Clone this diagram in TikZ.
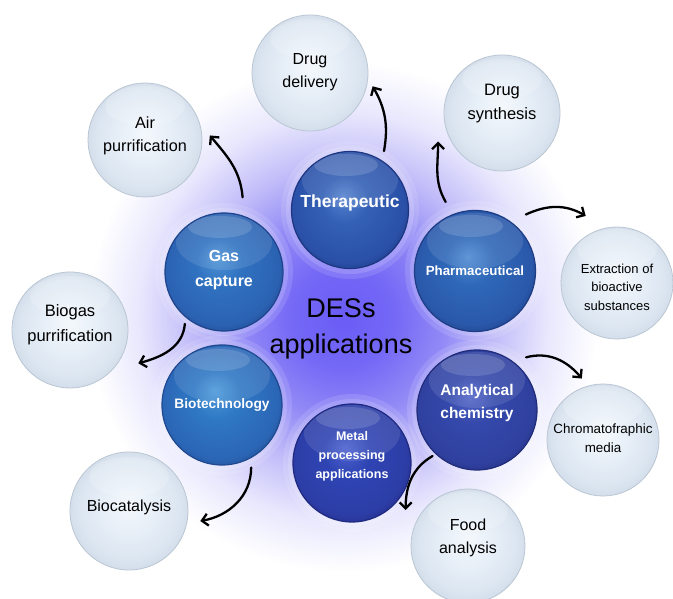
\documentclass[tikz,border=0pt]{standalone}
\usepackage{fontspec}
\setmainfont{Liberation Sans}
\usetikzlibrary{arrows.meta,calc}

% glow colours
\definecolor{g0}{HTML}{6A5CF5}
\definecolor{g1}{HTML}{7468F6}
\definecolor{g2}{HTML}{928AF6}
\definecolor{g3}{HTML}{C2BDF9}
\definecolor{g4}{HTML}{E8E7FD}
\pgfdeclareradialshading{glow}{\pgfpointorigin}{color(0bp)=(g0); color(5bp)=(g1); color(10bp)=(g2); color(15bp)=(g3); color(20bp)=(g4); color(25bp)=(white); color(50bp)=(white)}

% dark balls
\newcommand\mkball[5]{\pgfdeclareradialshading{#1}{\pgfpoint{-3bp}{6bp}}{color(0bp)=(#2); color(10bp)=(#3); color(24bp)=(#4); color(30bp)=(#5); color(34bp)=(#5)}}
\definecolor{therL}{HTML}{5582CF}\definecolor{therM}{HTML}{3360B5}\definecolor{therD}{HTML}{2A50A8}\definecolor{therE}{HTML}{1C3680}
\definecolor{gasL}{HTML}{4E93D6}\definecolor{gasM}{HTML}{3072C0}\definecolor{gasD}{HTML}{2B62B2}\definecolor{gasE}{HTML}{1E448C}
\definecolor{pharL}{HTML}{4D8AD2}\definecolor{pharM}{HTML}{2F68B8}\definecolor{pharD}{HTML}{2A58AA}\definecolor{pharE}{HTML}{1D3D84}
\definecolor{bioL}{HTML}{4D99DA}\definecolor{bioM}{HTML}{2F78C4}\definecolor{bioD}{HTML}{2B66B6}\definecolor{bioE}{HTML}{1F4A90}
\definecolor{metL}{HTML}{4D62D0}\definecolor{metM}{HTML}{2F44B3}\definecolor{metD}{HTML}{2C3DA6}\definecolor{metE}{HTML}{1F2980}
\definecolor{anaL}{HTML}{5265C8}\definecolor{anaM}{HTML}{3449AB}\definecolor{anaD}{HTML}{2F409F}\definecolor{anaE}{HTML}{212D7A}
\mkball{ther}{therL}{therM}{therD}{therE}
\mkball{gas}{gasL}{gasM}{gasD}{gasE}
\mkball{phar}{pharL}{pharM}{pharD}{pharE}
\mkball{bio}{bioL}{bioM}{bioD}{bioE}
\mkball{met}{metL}{metM}{metD}{metE}
\mkball{ana}{anaL}{anaM}{anaD}{anaE}

% light balls
\definecolor{lA}{HTML}{F4F8FC}
\definecolor{lB}{HTML}{E6EEF7}
\definecolor{lC}{HTML}{DCE6F1}
\definecolor{lD}{HTML}{CFDBE8}
\definecolor{lE}{HTML}{BAC6D3}
\pgfdeclareradialshading{lball}{\pgfpoint{0bp}{3bp}}{color(0bp)=(lA); color(12bp)=(lB); color(21bp)=(lC); color(27bp)=(lD); color(30bp)=(lD)}

\begin{document}
\begin{tikzpicture}[x=1pt,y=1pt,
  dball/.style={circle, minimum size=#1, inner sep=0pt, line width=1.2pt,
    path picture={
      \fill[white,opacity=0.10] ($(path picture bounding box.center)+(0,30pt)$) ellipse (48pt and 28pt);
      \fill[white,opacity=0.14] ($(path picture bounding box.center)+(-4pt,45pt)$) ellipse (32pt and 11pt);
    }},
  lball/.style={circle, minimum size=#1, inner sep=0pt, shading=lball, draw=lE, line width=0.8pt,
    path picture={
      \fill[white,opacity=0.18] ($(path picture bounding box.center)+(0,34pt)$) ellipse (40pt and 20pt);
    }},
  dtext/.style={text=white, align=center, inner sep=0pt},
  ltext/.style={text=black, align=center, inner sep=0pt},
  arr/.style={line width=2.3pt, line cap=round, -{Straight Barb[length=6pt,width=12pt]}}
]
\useasboundingbox (0,0) rectangle (673,599);
\begin{scope}
\clip (0,0) rectangle (673,599);
\fill[white] (0,0) rectangle (673,599);
\shade[shading=glow] (343,282) circle (255);
\end{scope}

% centres
\coordinate (cTher) at (350,389);
\coordinate (cGas) at (224,327);
\coordinate (cPhar) at (475,328);
\coordinate (cBio) at (222,194);
\coordinate (cMet) at (352,136);
\coordinate (cAna) at (477,189);

% soft halos
\foreach \c/\r in {cTher/59,cGas/59,cPhar/60,cBio/60,cMet/59,cAna/60}{
  \fill[white,opacity=0.12] (\c) circle[radius=\r+10];
  \fill[white,opacity=0.15] (\c) circle[radius=\r+5];
}

% light balls
\node[lball=116pt] (dd) at (310,526) {};
\node[lball=114pt] (air) at (145,459) {};
\node[lball=116pt] (ds) at (502,486) {};
\node[lball=112pt] (ext) at (617,316) {};
\node[lball=116pt] (biogas) at (70,269) {};
\node[lball=112pt] (chrom) at (603,159) {};
\node[lball=118pt] (biocat) at (129,88) {};
\node[lball=114pt] (food) at (468,53) {};

% dark balls
\node[dball=117pt, shading=ther, draw=therE] (ther) at (cTher) {};
\node[dball=118pt, shading=gas, draw=gasE] (gas) at (cGas) {};
\node[dball=121pt, shading=phar, draw=pharE] (phar) at (cPhar) {};
\node[dball=120pt, shading=bio, draw=bioE] (bio) at (cBio) {};
\node[dball=118pt, shading=met, draw=metE] (met) at (cMet) {};
\node[dball=120pt, shading=ana, draw=anaE] (ana) at (cAna) {};

% dark texts
\node[dtext, font=\bfseries\fontsize{17.5}{24}\selectfont] (therT) at ($(ther.center)+(0,7)$) {Therapeutic};
\node[dtext, font=\bfseries\fontsize{16}{25}\selectfont] (gasT) at ($(gas.center)+(0,2)$) {Gas\\capture};
\node[dtext, font=\bfseries\fontsize{13.3}{18}\selectfont] (pharT) at ($(phar.center)+(0,0)$) {Pharmaceutical};
\node[dtext, font=\bfseries\fontsize{13.7}{18}\selectfont] (bioT) at ($(bio.center)+(0,0)$) {Biotechnology};
\node[dtext, font=\bfseries\fontsize{12.5}{19}\selectfont] (metT) at ($(met.center)+(0,7)$) {Metal\\processing\\applications};
\node[dtext, font=\bfseries\fontsize{15.5}{23}\selectfont] (anaT) at ($(ana.center)+(0,7)$) {Analytical\\chemistry};

% light texts
\node[ltext, font=\fontsize{16}{23}\selectfont] (ddT) at ($(dd.center)+(0,1)$) {Drug\\delivery};
\node[ltext, font=\fontsize{16.2}{23}\selectfont] (airT) at ($(air.center)+(0,4)$) {Air\\purrification};
\node[ltext, font=\fontsize{16.5}{24}\selectfont] (dsT) at ($(ds.center)+(0,9)$) {Drug\\synthesis};
\node[ltext, font=\fontsize{13}{18.5}\selectfont] (extT) at ($(ext.center)+(0,-4)$) {Extraction of\\bioactive\\substances};
\node[ltext, font=\fontsize{16.5}{25}\selectfont] (biogasT) at ($(biogas.center)+(0,5)$) {Biogas\\purrification};
\node[ltext, font=\fontsize{13.4}{18.5}\selectfont] (chromT) at ($(chrom.center)+(0,2)$) {Chromatofraphic\\media};
\node[ltext, font=\fontsize{16}{23}\selectfont] (biocatT) at ($(biocat.center)+(0,4)$) {Biocatalysis};
\node[ltext, font=\fontsize{16}{23}\selectfont] (foodT) at ($(food.center)+(0,8)$) {Food\\analysis};

% title
\node[ltext, font=\fontsize{27}{36}\selectfont] (title) at (341,270) {DESs\\applications};

% arrows
\draw[arr] ($(ther.center)+(60:68)$) to[out=80,in=-60] ($(dd.center)+(-12:64)$);
\draw[arr] ($(gas.center)+(76:77)$) to[out=95,in=-50] ($(air.center)+(4:65)$);
\draw[arr] ($(phar.center)+(113:75)$) to[out=120,in=-90] ($(ds.center)+(-156:70)$);
\draw[arr] ($(phar.center)+(48:76)$) to[out=25,in=150] ($(ext.center)+(115:74)$);
\draw[arr] ($(gas.center)+(-127:65)$) to[out=-95,in=15] ($(biogas.center)+(-26:76)$);
\draw[arr] ($(ana.center)+(47:72)$) to[out=15,in=130] ($(chrom.center)+(109:65)$);
\draw[arr] ($(bio.center)+(-65:69)$) to[out=-90,in=10] ($(biocat.center)+(-8:72)$);
\draw[arr] ($(ana.center)+(-134:64)$) to[out=-150,in=90] ($(food.center)+(150:72)$);
\end{tikzpicture}
\end{document}
